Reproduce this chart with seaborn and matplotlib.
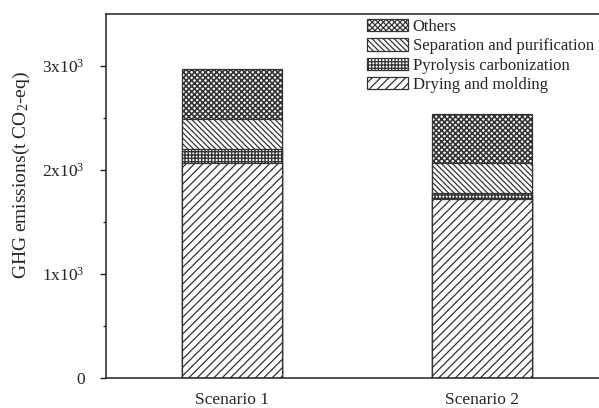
import matplotlib
matplotlib.use("Agg")
import matplotlib.pyplot as plt
from matplotlib.patches import Patch
from matplotlib.ticker import FixedLocator
import numpy as np
import pandas as pd
import seaborn as sns

# Emission contributions per scenario (t CO2-eq)
scenarios = ["Scenario 1", "Scenario 2"]
drying_molding = [2070, 1725]
pyrolysis_carbonization = [130, 50]
separation_purification = [290, 295]
others = [480, 470]

stages = ["Others", "Separation and purification", "Pyrolysis carbonization", "Drying and molding"]
hatches = {"Others": "xxxxxx", "Separation and purification": "\\" * 6,
           "Pyrolysis carbonization": "+++++", "Drying and molding": "////"}
hatch_widths = {"Others": 1.2, "Separation and purification": 0.9,
                "Pyrolysis carbonization": 1.0, "Drying and molding": 0.9}

sns.set_theme(style="ticks")
plt.rcParams["font.family"] = ["Liberation Serif", "DejaVu Serif"]
plt.rcParams["mathtext.fontset"] = "custom"
plt.rcParams["mathtext.rm"] = "Liberation Serif"
plt.rcParams["mathtext.it"] = "Liberation Serif:italic"
plt.rcParams["hatch.linewidth"] = 0.9
plt.rcParams["axes.linewidth"] = 1.1

# cumulative heights, drawn from the tallest down so each layer covers the previous
layers = [drying_molding, pyrolysis_carbonization, separation_purification, others]
cum = np.cumsum(np.array(layers), axis=0)
tops = {
    "Drying and molding": cum[0],
    "Pyrolysis carbonization": cum[1],
    "Separation and purification": cum[2],
    "Others": cum[3],
}


def set_hatch_width(patch, lw):
    if hasattr(patch, "set_hatch_linewidth"):
        patch.set_hatch_linewidth(lw)


fig = plt.figure(figsize=(5.99, 4.08), dpi=100)
W, H = 599, 408
ax = fig.add_axes([105.5 / W, 30 / H, 514.6 / W, 364 / H])

edge = "#333333"
for stage in stages:
    df = pd.DataFrame({"scenario": scenarios, "value": tops[stage]})
    sns.barplot(data=df, x="scenario", y="value", ax=ax, color="white",
                saturation=1, width=0.40, edgecolor=edge, linewidth=0.9,
                hatch=hatches[stage])
    for bar in ax.containers[-1]:
        set_hatch_width(bar, hatch_widths[stage])

ax.set_xlim(-0.504, 1.55)
ax.set_ylim(0, 3500)
ax.yaxis.set_major_locator(FixedLocator([0, 1000, 2000, 3000]))
ax.yaxis.set_minor_locator(FixedLocator([500, 1500, 2500]))
ax.set_yticklabels(["0", "1x10$^{3}$", "2x10$^{3}$", "3x10$^{3}$"])
ax.tick_params(axis="y", which="major", length=4, width=1.0, pad=11, labelsize=12.5, color="#222222")
ax.tick_params(axis="y", which="minor", length=2.5, width=1.0, color="#222222")
ax.tick_params(axis="x", length=0, pad=10, labelsize=12.5)
ax.set_xlabel("")
ax.set_ylabel("GHG emissions(t CO$_{2}$-eq)", fontsize=14)
ax.yaxis.set_label_coords(-0.143, 0.558)

for s in ["left", "bottom", "top", "right"]:
    ax.spines[s].set_color("#222222")

handles = []
for s in stages:
    p = Patch(facecolor="white", edgecolor=edge, hatch=hatches[s], linewidth=0.9)
    set_hatch_width(p, hatch_widths[s])
    handles.append(p)
fig.legend(handles, stages, loc="upper left", bbox_to_anchor=(367 / W, 1 - 19 / H),
           frameon=False, fontsize=12, borderpad=0, handlelength=2.45, handleheight=0.75,
           handletextpad=0.3, labelspacing=0.2, borderaxespad=0)

fig.savefig("out.png", dpi=100)
